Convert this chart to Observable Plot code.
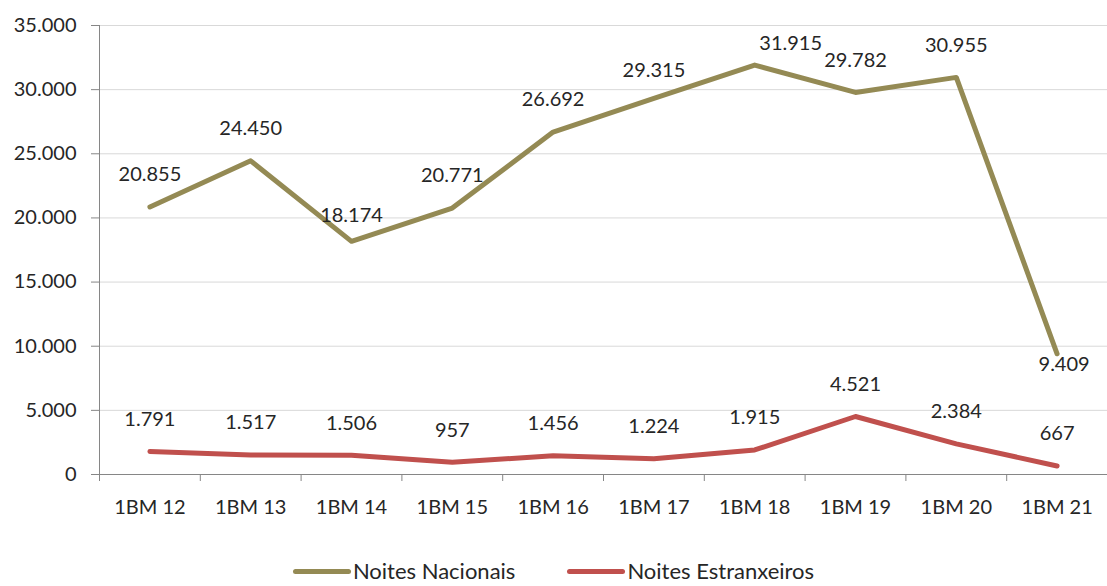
<!DOCTYPE html>
<html>
<head>
<meta charset="utf-8">
<script src="https://cdn.jsdelivr.net/npm/d3@7"></script>
<script src="https://cdn.jsdelivr.net/npm/@observablehq/plot@0.6"></script>
<style>
  body { margin: 0; background: #fff; font-family: Lato, "Open Sans", sans-serif; }
  #legend { display: flex; justify-content: center; align-items: center; margin-top: 7px; height: 24px; font-size: 22px; line-height: 24px; color: #262626; }
  .item { display: flex; align-items: center; margin: 0 26px; }
  .swatch { width: 58px; height: 5px; border-radius: 3px; margin-right: 2px; }
</style>
</head>
<body>
<div id="chart"></div>
<div id="legend"></div>
<script>
const categories = ["1BM 12","1BM 13","1BM 14","1BM 15","1BM 16","1BM 17","1BM 18","1BM 19","1BM 20","1BM 21"];
const nacionais = [20855, 24450, 18174, 20771, 26692, 29315, 31915, 29782, 30955, 9409];
const estranxeiros = [1791, 1517, 1506, 957, 1456, 1224, 1915, 4521, 2384, 667];
const seriesNames = ["Noites Nacionais", "Noites Estranxeiros"];
const seriesColors = ["#948A54", "#C0504D"];
const yTicks = [0, 5000, 10000, 15000, 20000, 25000, 30000, 35000];

// label placement tweaks (style, not data)
const labelOffsets = {
  "Noites Nacionais|1BM 14": [0, -26],
  "Noites Nacionais|1BM 17": [0, -28],
  "Noites Nacionais|1BM 18": [36, -21],
  "Noites Nacionais|1BM 21": [7, 11]
};

const fmt = d3.formatLocale({decimal: ",", thousands: ".", grouping: [3], currency: ["", ""]}).format(",");

const rows = [];
[nacionais, estranxeiros].forEach((vals, s) => {
  vals.forEach((v, i) => rows.push({series: seriesNames[s], cat: categories[i], idx: i, value: v}));
});
const off = d => labelOffsets[d.series + "|" + d.cat] || [0, -32];

const boundaries = d3.range(categories.length + 1).map(i => i - 0.5);

const chart = Plot.plot({
  width: 1107,
  height: 552,
  marginLeft: 99,
  marginRight: 0,
  marginTop: 25,
  marginBottom: 78,
  style: {fontFamily: "Lato, 'Open Sans', sans-serif", fontSize: "20px", color: "#262626", background: "#fff"},
  x: {type: "linear", domain: [-0.5, categories.length - 0.5]},
  y: {domain: [0, 35000]},
  color: {domain: seriesNames, range: seriesColors},
  marks: [
    Plot.gridY(yTicks, {stroke: "#D9D9D9", strokeOpacity: 1}),
    Plot.ruleY([0], {stroke: "#868686"}),
    Plot.ruleX([-0.5], {stroke: "#868686"}),
    Plot.axisY({ticks: yTicks, tickFormat: fmt, tickSize: 8, tickPadding: 15, stroke: "#868686", label: null, fill: "#262626"}),
    Plot.axisX({ticks: boundaries, tickFormat: () => "", tickSize: 7, stroke: "#868686", label: null}),
    Plot.axisX({ticks: d3.range(categories.length), tickFormat: i => categories[i], tickSize: 0, tickPadding: 25, label: null, fill: "#262626"}),
    Plot.line(rows, {x: "idx", y: "value", z: "series", stroke: "series", strokeWidth: 5, strokeLinejoin: "round", strokeLinecap: "round"}),
    ...rows.map(d => Plot.text([d], {x: "idx", y: "value", text: r => fmt(r.value), dx: off(d)[0], dy: off(d)[1], fill: "#262626", fontSize: 20}))
  ]
});
document.getElementById("chart").append(chart);

const legend = document.getElementById("legend");
seriesNames.forEach((n, i) => {
  const it = document.createElement("div");
  it.className = "item";
  it.innerHTML = `<span class="swatch" style="background:${seriesColors[i]}"></span><span>${n}</span>`;
  legend.append(it);
});
</script>
</body>
</html>
